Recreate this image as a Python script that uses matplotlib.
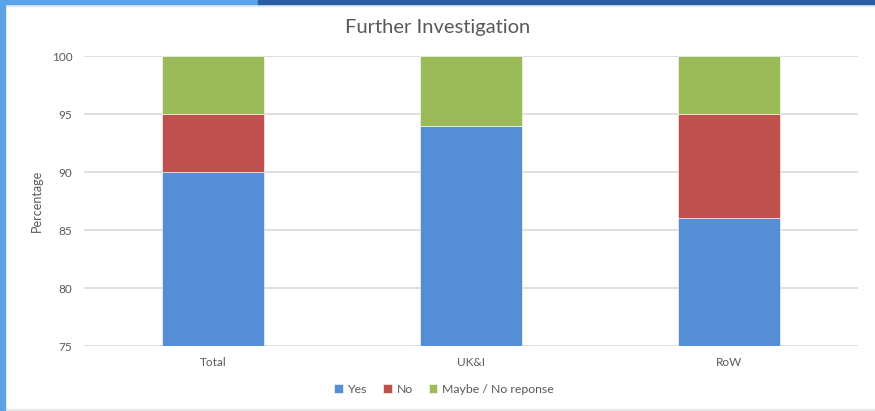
import matplotlib.pyplot as plt
import numpy as np
from matplotlib.patches import Rectangle

categories = ["Total", "UK&I", "RoW"]
yes = [90, 94, 86]
no = [5, 0, 9]
maybe = [5, 6, 5]
series_names = ["Yes", "No", "Maybe / No reponse"]
colors = ["#558ED5", "#C0504D", "#9BBB59"]
yticks = [75, 80, 85, 90, 95, 100]

plt.rcParams["font.family"] = ["Lato", "DejaVu Sans"]

fig = plt.figure(figsize=(8.75, 4.11), dpi=100)
W, H = 875, 411
ax = fig.add_axes([84 / W, 1 - 346 / H, 774 / W, 290 / H])

x = np.arange(len(categories))
bottom = np.zeros(len(categories))
for vals, name, c in zip([yes, no, maybe], series_names, colors):
    vals = np.array(vals, dtype=float)
    ax.bar(x, vals, width=0.395, bottom=bottom, color=c, label=name,
           edgecolor="white", linewidth=0.4, zorder=3)
    bottom += vals

ax.set_xlim(-0.5, len(categories) - 0.5)
ax.set_ylim(75, 100)
ax.set_yticks(yticks)
ax.set_xticks(x)
ax.set_xticklabels(categories)
ax.tick_params(axis="both", length=0, labelsize=8.5, colors="#595959")
ax.tick_params(axis="y", pad=8.5)
ax.tick_params(axis="x", pad=8)
ax.grid(axis="y", color="#D9D9D9", linewidth=1.2, zorder=0)
for s in ax.spines.values():
    s.set_visible(False)
ax.set_ylabel("Percentage", fontsize=9, color="#595959", labelpad=6)

fig.text(0.5, 1 - 27 / H, "Further Investigation", ha="center", va="center",
         fontsize=14.5, color="#595959")

ax.legend(loc="center", bbox_to_anchor=((444 - 84) / 774, (346 - 389) / 290), ncol=3,
          frameon=False, fontsize=8.8, handlelength=0.7, handleheight=0.7,
          handletextpad=0.4, columnspacing=1.3, labelcolor="#595959")

# window frame
fig.patches.append(Rectangle((0, 1 - 4 / H), 258 / W, 4 / H, transform=fig.transFigure,
                             color="#5BA3E8", zorder=10))
fig.patches.append(Rectangle((258 / W, 1 - 4 / H), 1 - 258 / W, 4 / H,
                             transform=fig.transFigure, color="#2B5CA8", zorder=10))
fig.patches.append(Rectangle((0, 0), 5 / W, 1, transform=fig.transFigure,
                             color="#5BA3E8", zorder=10))
fig.patches.append(Rectangle((5 / W, 1 - 6 / H), 1, 2 / H, transform=fig.transFigure,
                             color="#E6E9EC", zorder=9))
fig.patches.append(Rectangle((0, 0), 1, 2 / H, transform=fig.transFigure,
                             color="#E8E8E8", zorder=9))

fig.savefig("out.png", dpi=100)
